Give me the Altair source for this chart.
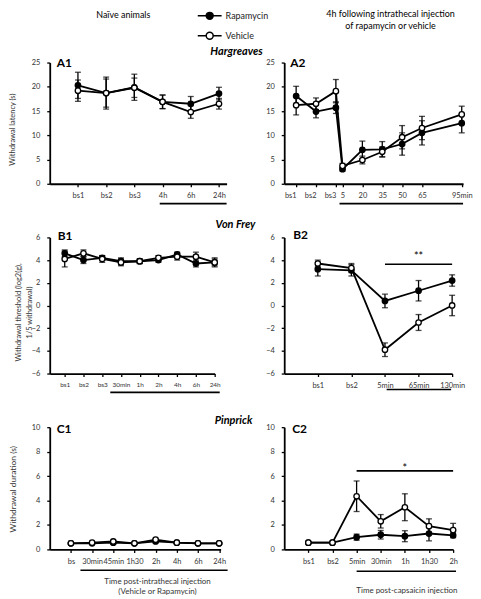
import altair as alt
import pandas as pd

FONT = "Lato"
GROUPS = ["Rapamycin", "Vehicle"]

# ---------------- data ----------------
# A1 Hargreaves, naive animals
a1_labels = ["bs1", "bs2", "bs3", "4h", "6h", "24h"]
a1_rapa = [20.3, 18.7, 19.9, 16.9, 16.5, 18.6]
a1_rapa_err = [2.7, 3.3, 2.7, 1.4, 1.5, 1.3]
a1_veh = [19.2, 18.7, 19.8, 16.9, 14.8, 16.5]
a1_veh_err = [2.2, 2.9, 2.0, 1.4, 1.3, 1.1]

# A2 Hargreaves, after capsaicin (time in min, baselines before 0)
a2_labels = ["bs1", "bs2", "bs3", "5", "20", "35", "50", "65", "95min"]
a2_time = [-30, -15, 0, 5, 20, 35, 50, 65, 95]
a2_rapa = [18.1, 14.9, 15.7, 3.0, 7.0, 7.1, 8.2, 10.5, 12.5]
a2_rapa_err = [2.0, 1.3, 1.2, 0.4, 1.8, 1.6, 2.3, 2.5, 2.0]
a2_veh = [16.2, 16.5, 19.1, 3.7, 4.9, 6.6, 9.6, 11.5, 14.3]
a2_veh_err = [2.0, 1.2, 2.4, 0.5, 0.8, 1.0, 2.4, 2.4, 1.7]

# B1 Von Frey, naive animals
b1_labels = ["bs1", "bs2", "bs3", "30min", "1h", "2h", "4h", "6h", "24h"]
b1_rapa = [4.6, 4.0, 4.2, 3.9, 3.9, 4.0, 4.5, 3.7, 3.8]
b1_rapa_err = [0.3, 0.3, 0.2, 0.3, 0.2, 0.2, 0.2, 0.3, 0.3]
b1_veh = [4.1, 4.6, 4.1, 3.8, 3.9, 4.2, 4.3, 4.3, 3.8]
b1_veh_err = [0.7, 0.3, 0.3, 0.3, 0.2, 0.2, 0.3, 0.4, 0.4]

# B2 Von Frey, after capsaicin
b2_labels = ["bs1", "bs2", "5min", "65min", "130min"]
b2_rapa = [3.2, 3.1, 0.4, 1.3, 2.2]
b2_rapa_err = [0.6, 0.5, 0.6, 0.9, 0.5]
b2_veh = [3.7, 3.3, -3.9, -1.5, 0.0]
b2_veh_err = [0.3, 0.4, 0.6, 0.7, 0.9]

# C1 Pinprick, naive animals
c1_labels = ["bs", "30min", "45min", "1h30", "2h", "4h", "6h", "24h"]
c1_rapa = [0.5, 0.5, 0.55, 0.5, 0.65, 0.55, 0.5, 0.5]
c1_rapa_err = [0.05, 0.05, 0.1, 0.05, 0.1, 0.05, 0.05, 0.05]
c1_veh = [0.5, 0.55, 0.65, 0.5, 0.8, 0.55, 0.5, 0.5]
c1_veh_err = [0.05, 0.05, 0.1, 0.05, 0.1, 0.05, 0.05, 0.05]

# C2 Pinprick, after capsaicin
c2_labels = ["bs1", "bs2", "5min", "30min", "1h", "1h30", "2h"]
c2_rapa = [0.55, 0.55, 1.0, 1.2, 1.08, 1.3, 1.15]
c2_rapa_err = [0.0, 0.0, 0.25, 0.35, 0.45, 0.6, 0.2]
c2_veh = [0.55, 0.55, 4.35, 2.3, 3.45, 1.9, 1.58]
c2_veh_err = [0.0, 0.0, 1.25, 0.55, 1.1, 0.6, 0.55]

LEGEND_PATH = ("M-2.4,0L-0.7,0M0.7,0L2.4,0"
               "M0.7,0A0.7,0.7,0,1,1,-0.7,0A0.7,0.7,0,1,1,0.7,0Z")


def make_df(xpos, rapa, rerr, veh, verr):
    rows = []
    for g, m, e in (("Rapamycin", rapa, rerr), ("Vehicle", veh, verr)):
        for x, mv, ev in zip(xpos, m, e):
            rows.append({"x": x, "group": g, "mean": mv, "lo": mv - ev, "hi": mv + ev})
    return pd.DataFrame(rows)


def label_expr(vals, labels):
    parts = [f"datum.value == {v} ? '{l}'" for v, l in zip(vals, labels)]
    return " : ".join(parts) + " : ''"


def panel(df, tickvals, ticklabels, xdom, ydom, yticks, w, h,
          ytitle_kw, xtitle_kw, extras, label_size=7.5, label_align=None):
    xs = alt.Scale(domain=xdom, nice=False, zero=False)
    ys = alt.Scale(domain=ydom, nice=False, zero=False)
    xkw = dict(values=tickvals, labelExpr=label_expr(tickvals, ticklabels),
               labelFontSize=label_size, labelPadding=5, labelOverlap=False,
               labelFlush=False, grid=False)
    if label_align is not None:
        xkw["labelAlign"] = label_align
    xkw.update(xtitle_kw)
    xaxis = alt.Axis(**xkw)
    yaxis = alt.Axis(values=yticks, labelPadding=7, grid=False, labelFlush=False,
                     labelOverlap=False, **ytitle_kw)
    X = alt.X("x:Q", scale=xs, axis=xaxis)
    base = alt.Chart(df)
    fill = alt.Fill("group:N", scale=alt.Scale(domain=GROUPS, range=["black", "white"]),
                    legend=alt.Legend(title=None, orient="none", legendX=155, legendY=-53,
                                      symbolType=LEGEND_PATH, symbolSize=100,
                                      symbolStrokeColor="black", symbolStrokeWidth=1.5,
                                      symbolFillColor="white",
                                      labelFont=FONT, labelFontSize=9, labelColor="#222",
                                      labelOffset=10, rowPadding=6, padding=0))
    line = base.mark_line(color="black", strokeWidth=1.8).encode(
        x=X, y=alt.Y("mean:Q", scale=ys, axis=yaxis), detail="group:N")
    bars = base.mark_rule(color="black", strokeWidth=1.3).encode(
        x=X, y=alt.Y("lo:Q", scale=ys, axis=yaxis), y2="hi:Q")
    cap_lo = base.mark_tick(color="black", orient="horizontal", size=6, thickness=1.3).encode(
        x=X, y=alt.Y("lo:Q", scale=ys, axis=yaxis))
    cap_hi = base.mark_tick(color="black", orient="horizontal", size=6, thickness=1.3).encode(
        x=X, y=alt.Y("hi:Q", scale=ys, axis=yaxis))
    pts = base.mark_point(shape="circle", size=30, stroke="black", strokeWidth=1.3,
                          opacity=1, fillOpacity=1).encode(
        x=X, y=alt.Y("mean:Q", scale=ys, axis=yaxis), fill=fill)
    layers = [line, bars, cap_lo, cap_hi, pts]
    for ex in extras:
        layers.append(ex(X))
    return alt.layer(*layers).properties(width=w, height=h)


def text_layer(t, x, y, size=9, weight="normal", style="normal", align="center",
               baseline="middle", line_height=12):
    def f(X):
        return alt.Chart(pd.DataFrame({"t": [t]})).mark_text(
            font=FONT, fontSize=size, fontWeight=weight, fontStyle=style, align=align,
            baseline=baseline, color="black", lineBreak="\n", lineHeight=line_height).encode(
            x=alt.value(x), y=alt.value(y), text="t:N")
    return f


def hline(x1, x2, y, width=1.6):
    def f(X):
        return alt.Chart(pd.DataFrame({"x": [x1], "x2": [x2]})).mark_rule(
            color="black", strokeWidth=width).encode(
            x=X, x2="x2:Q", y=alt.value(y))
    return f


def mark_text_at(t, xval, y, size=11):
    def f(X):
        return alt.Chart(pd.DataFrame({"x": [xval], "t": [t]})).mark_text(
            font=FONT, fontSize=size, color="black", baseline="middle").encode(
            x=X, y=alt.value(y), text="t:N")
    return f


Y_A = [0, 5, 10, 15, 20, 25]
Y_B = [-6, -4, -2, 0, 2, 4, 6]
Y_C = [0, 2, 4, 6, 8, 10]

a1_pos = list(range(1, len(a1_labels) + 1))
A1 = panel(make_df(a1_pos, a1_rapa, a1_rapa_err, a1_veh, a1_veh_err),
           a1_pos, a1_labels, [0, 6.27], [0, 25], Y_A, 178, 122,
           dict(title="Withdrawal latency (s)", titleX=-37, titleY=67,
                titleBaseline="middle", titleFontSize=7.5),
           dict(title=None),
           [text_layer("A1", 7, 4, size=12, weight="bold", align="left", baseline="alphabetic"),
            text_layer("Hargreaves", 188, -11, size=11, weight="bold", style="italic"),
            text_layer("Naïve animals", 74, -48, size=9),
            hline(3.9, 6.27, 142)])

A2 = panel(make_df(a2_time, a2_rapa, a2_rapa_err, a2_veh, a2_veh_err),
           a2_time, a2_labels, [-39, 96], [0, 25], Y_A, 180, 122,
           dict(title=None), dict(title=None),
           [text_layer("A2", 6, 4, size=12, weight="bold", align="left", baseline="alphabetic"),
            text_layer("4h following intrathecal injection\nof rapamycin or vehicle",
                       107, -53, size=9, baseline="top", line_height=12),
            hline(2.75, 96, 142)],
           label_align={"condition": {"test": "datum.value <= 0", "value": "right"},
                        "value": "center"})

b1_pos = list(range(1, len(b1_labels) + 1))
B1 = panel(make_df(b1_pos, b1_rapa, b1_rapa_err, b1_veh, b1_veh_err),
           b1_pos, b1_labels, [0.2, 9.0], [-6, 6], Y_B, 166, 137,
           dict(title=["Withdrawal threshold (log2(g),", "1/5 withdrawal)"], titleX=-31.5,
                titleY=75, titleBaseline="middle", titleFontSize=7.5, titleLineHeight=11),
           dict(title=None),
           [text_layer("B1", 8, 3, size=12, weight="bold", align="left", baseline="alphabetic"),
            text_layer("Von Frey", 187, -12, size=11, weight="bold", style="italic"),
            hline(3.43, 9.27, 156)],
           label_size=6.5)

b2_pos = list(range(1, len(b2_labels) + 1))
B2 = panel(make_df(b2_pos, b2_rapa, b2_rapa_err, b2_veh, b2_veh_err),
           b2_pos, b2_labels, [0, 5], [-6, 6], Y_B, 169, 137,
           dict(title=None), dict(title=None),
           [text_layer("B2", 9, 2, size=12, weight="bold", align="left", baseline="alphabetic"),
            hline(3, 5, 27),
            mark_text_at("**", 4, 20),
            hline(3.05, 4.97, 153)])

c1_pos = list(range(1, len(c1_labels) + 1))
C1 = panel(make_df(c1_pos, c1_rapa, c1_rapa_err, c1_veh, c1_veh_err),
           c1_pos, c1_labels, [0, 8.07], [0, 10], Y_C, 172, 123,
           dict(title="Withdrawal duration (s)", titleX=-37, titleY=62,
                titleBaseline="middle", titleFontSize=8.5),
           dict(title=["Time post-intrathecal injection", "(Vehicle or Rapamycin)"],
                titleX=108, titleY=32, titleBaseline="middle", titleFontSize=8,
                titleLineHeight=10),
           [text_layer("C1", 7, 6, size=12, weight="bold", align="left", baseline="alphabetic"),
            text_layer("Pinprick", 185, -6, size=11, weight="bold", style="italic"),
            hline(1.45, 8.4, 144)])

c2_pos = list(range(1, len(c2_labels) + 1))
C2 = panel(make_df(c2_pos, c2_rapa, c2_rapa_err, c2_veh, c2_veh_err),
           c2_pos, c2_labels, [0, 7], [0, 10], Y_C, 170, 123,
           dict(title=None),
           dict(title="Time post-capsaicin injection", titleX=123, titleY=41,
                titleBaseline="middle", titleFontSize=8),
           [text_layer("C2", 8, 6, size=12, weight="bold", align="left", baseline="alphabetic"),
            hline(3, 7, 44),
            mark_text_at("*", 5, 42),
            hline(3, 7.12, 145)])

chart = alt.concat(A1, A2, B1, B2, C1, C2, columns=2,
                   spacing={"row": 54, "column": 58}, align="each", bounds="flush").properties(
    padding=0
).configure_view(stroke=None).configure_axis(
    domainColor="black", domainWidth=1.8, tickColor="black", tickWidth=1.3, tickSize=3,
    labelFont=FONT, labelColor="#333", titleFont=FONT, titleFontWeight="normal",
    titleColor="#333", labelFontSize=7.5
)

chart.save("out.html", embed_options={"renderer": "svg", "actions": False})
